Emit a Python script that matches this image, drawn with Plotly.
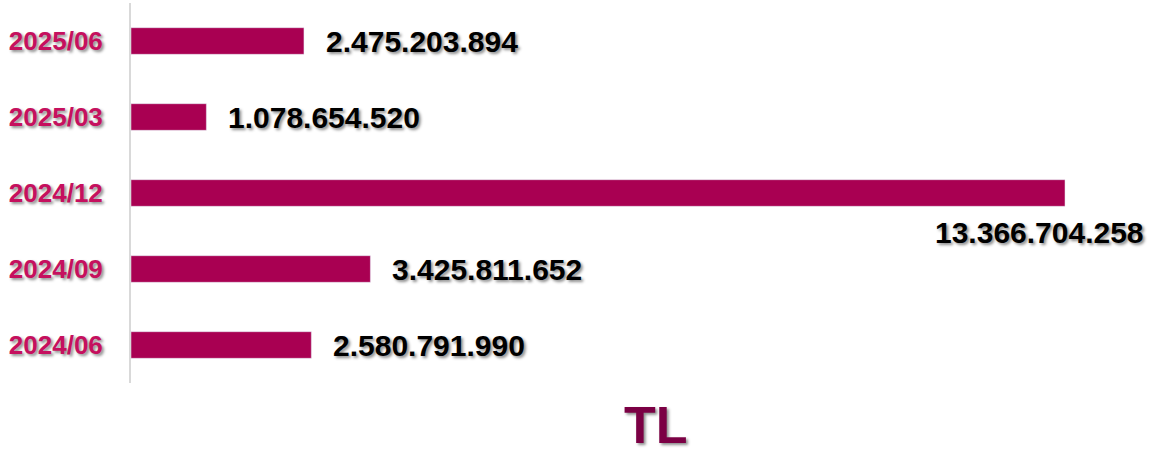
import plotly.graph_objects as go

# data
periods = ['2024/06', '2024/09', '2024/12', '2025/03', '2025/06']
values = [2580791990, 3425811652, 13366704258, 1078654520, 2475203894]
labels = ['2.580.791.990', '3.425.811.652', '13.366.704.258', '1.078.654.520', '2.475.203.894']
unit_label = 'TL'

bar_color = '#A90052'
tick_color = '#C5105E'
unit_color = '#7B0044'
shadow = '2px 2px 3px rgba(0,0,0,0.45)'

fig = go.Figure()
fig.add_trace(go.Bar(x=values, y=periods, orientation='h', width=0.35,
                     marker=dict(color=bar_color), hoverinfo='skip'))

# value labels next to the bars, the biggest one goes under its bar
max_value = max(values)
annotations = []
for period, value, label in zip(periods, values, labels):
    if value == max_value:
        annotations.append(dict(x=value, y=period, text=label, showarrow=False,
                                xanchor='right', yanchor='middle', xshift=81, yshift=-39,
                                font=dict(family='Liberation Sans, Arial', size=30, color='black',
                                          weight='bold', shadow=shadow)))
    else:
        annotations.append(dict(x=value, y=period, text=label, showarrow=False,
                                xanchor='left', yanchor='middle', xshift=20,
                                font=dict(family='Liberation Sans, Arial', size=30, color='black',
                                          weight='bold', shadow=shadow)))

# unit label under the chart
annotations.append(dict(x=0.515, y=-0.11, xref='paper', yref='paper', text=unit_label,
                        showarrow=False, xanchor='center', yanchor='middle',
                        font=dict(family='Liberation Sans Narrow, Arial Narrow, Liberation Sans',
                                  size=52, color=unit_color, weight='bold', shadow=shadow)))

fig.update_layout(width=1155, height=454, margin=dict(l=131, r=5, t=3, b=71),
                  showlegend=False, paper_bgcolor='white', plot_bgcolor='white',
                  annotations=annotations)
fig.update_xaxes(range=[0, 14.583e9], showticklabels=False, showgrid=False, zeroline=False,
                 showline=False, fixedrange=True, automargin=False)
fig.update_yaxes(showgrid=False, zeroline=False, showline=True, linewidth=2, linecolor='#D9D9D9',
                 ticks='', ticklabelstandoff=21, fixedrange=True, automargin=False,
                 tickfont=dict(family='Liberation Sans, Arial', size=26, color=tick_color,
                               weight='bold', shadow=shadow))

# drop the default page margin so the figure sits at the window corner
fig.write_html('out.html', config=dict(displayModeBar=False),
               post_script="document.body.style.margin='0';")
